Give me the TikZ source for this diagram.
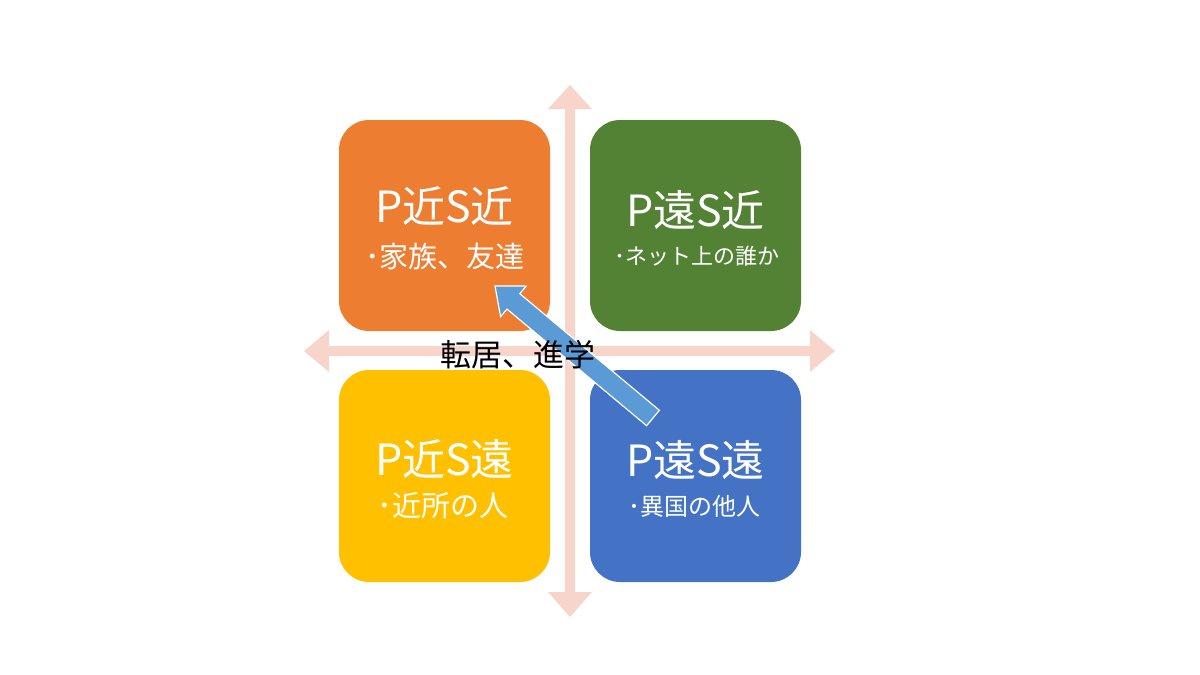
\documentclass[tikz,border=0pt]{standalone}
\usepackage{fontspec}
\setmainfont{Noto Sans CJK JP}
\definecolor{axisc}{HTML}{F7D5CA}
\definecolor{orangec}{HTML}{ED7D31}
\definecolor{greenc}{HTML}{548235}
\definecolor{yellowc}{HTML}{FFC000}
\definecolor{bluec}{HTML}{4472C4}
\definecolor{arrowc}{HTML}{5B9BD5}
\tikzset{
  quad/.style={rounded corners=30pt, inner sep=0pt},
  ttl/.style={text=white, font=\fontsize{43}{47}\selectfont, anchor=center, inner sep=0pt},
  sub/.style={text=white, anchor=center, inner sep=0pt},
}
\begin{document}
\begin{tikzpicture}[x=1pt,y=-1pt]
\useasboundingbox (0,0) rectangle (1200,675);
\fill[white] (0,0) rectangle (1200,675);
% axes
\fill[axisc] (570,85) -- (592,109) -- (575,109) -- (575,592) -- (592,592) -- (570,617)
  -- (548,592) -- (565,592) -- (565,109) -- (548,109) -- cycle;
\fill[axisc] (304,351) -- (329,330) -- (329,346) -- (810,346) -- (810,330) -- (835,351)
  -- (810,372) -- (810,356) -- (329,356) -- (329,372) -- cycle;
% boxes
\fill[orangec, quad] (339,120) rectangle (550,331);
\fill[greenc, quad] (590,120) rectangle (801,331);
\fill[yellowc, quad] (339,370) rectangle (550,582);
\fill[bluec, quad] (590,370) rectangle (801,582);
\node[ttl] (t1) at (444.5,206) {P近S近};
\node[sub, font=\fontsize{29}{32}\selectfont] (s1) at (445,256) {･家族、友達};
\node[ttl] (t2) at (695.5,210) {P遠S近};
\node[sub, font=\fontsize{22}{26}\selectfont] (s2) at (697,256) {･ネット上の誰か};
\node[ttl] (t3) at (444.5,459) {P近S遠};
\node[sub, font=\fontsize{29}{32}\selectfont] (s3) at (443,506) {･近所の人};
\node[ttl] (t4) at (695.5,460) {P遠S遠};
\node[sub, font=\fontsize{24}{28}\selectfont] (s4) at (694.5,506) {･異国の他人};
% blue arrow
\filldraw[fill=arrowc, draw=white, line width=1.2pt, line join=miter]
  (659.4,410.3) -- (519.8,293.7) -- (526.2,286.1) -- (495,286) -- (500.6,316.7)
  -- (507.0,309.1) -- (646.6,425.7) -- cycle;
\node[font=\fontsize{31}{35}\selectfont, text=black] (lbl) at (518,355) {転居、進学};
\end{tikzpicture}
\end{document}
